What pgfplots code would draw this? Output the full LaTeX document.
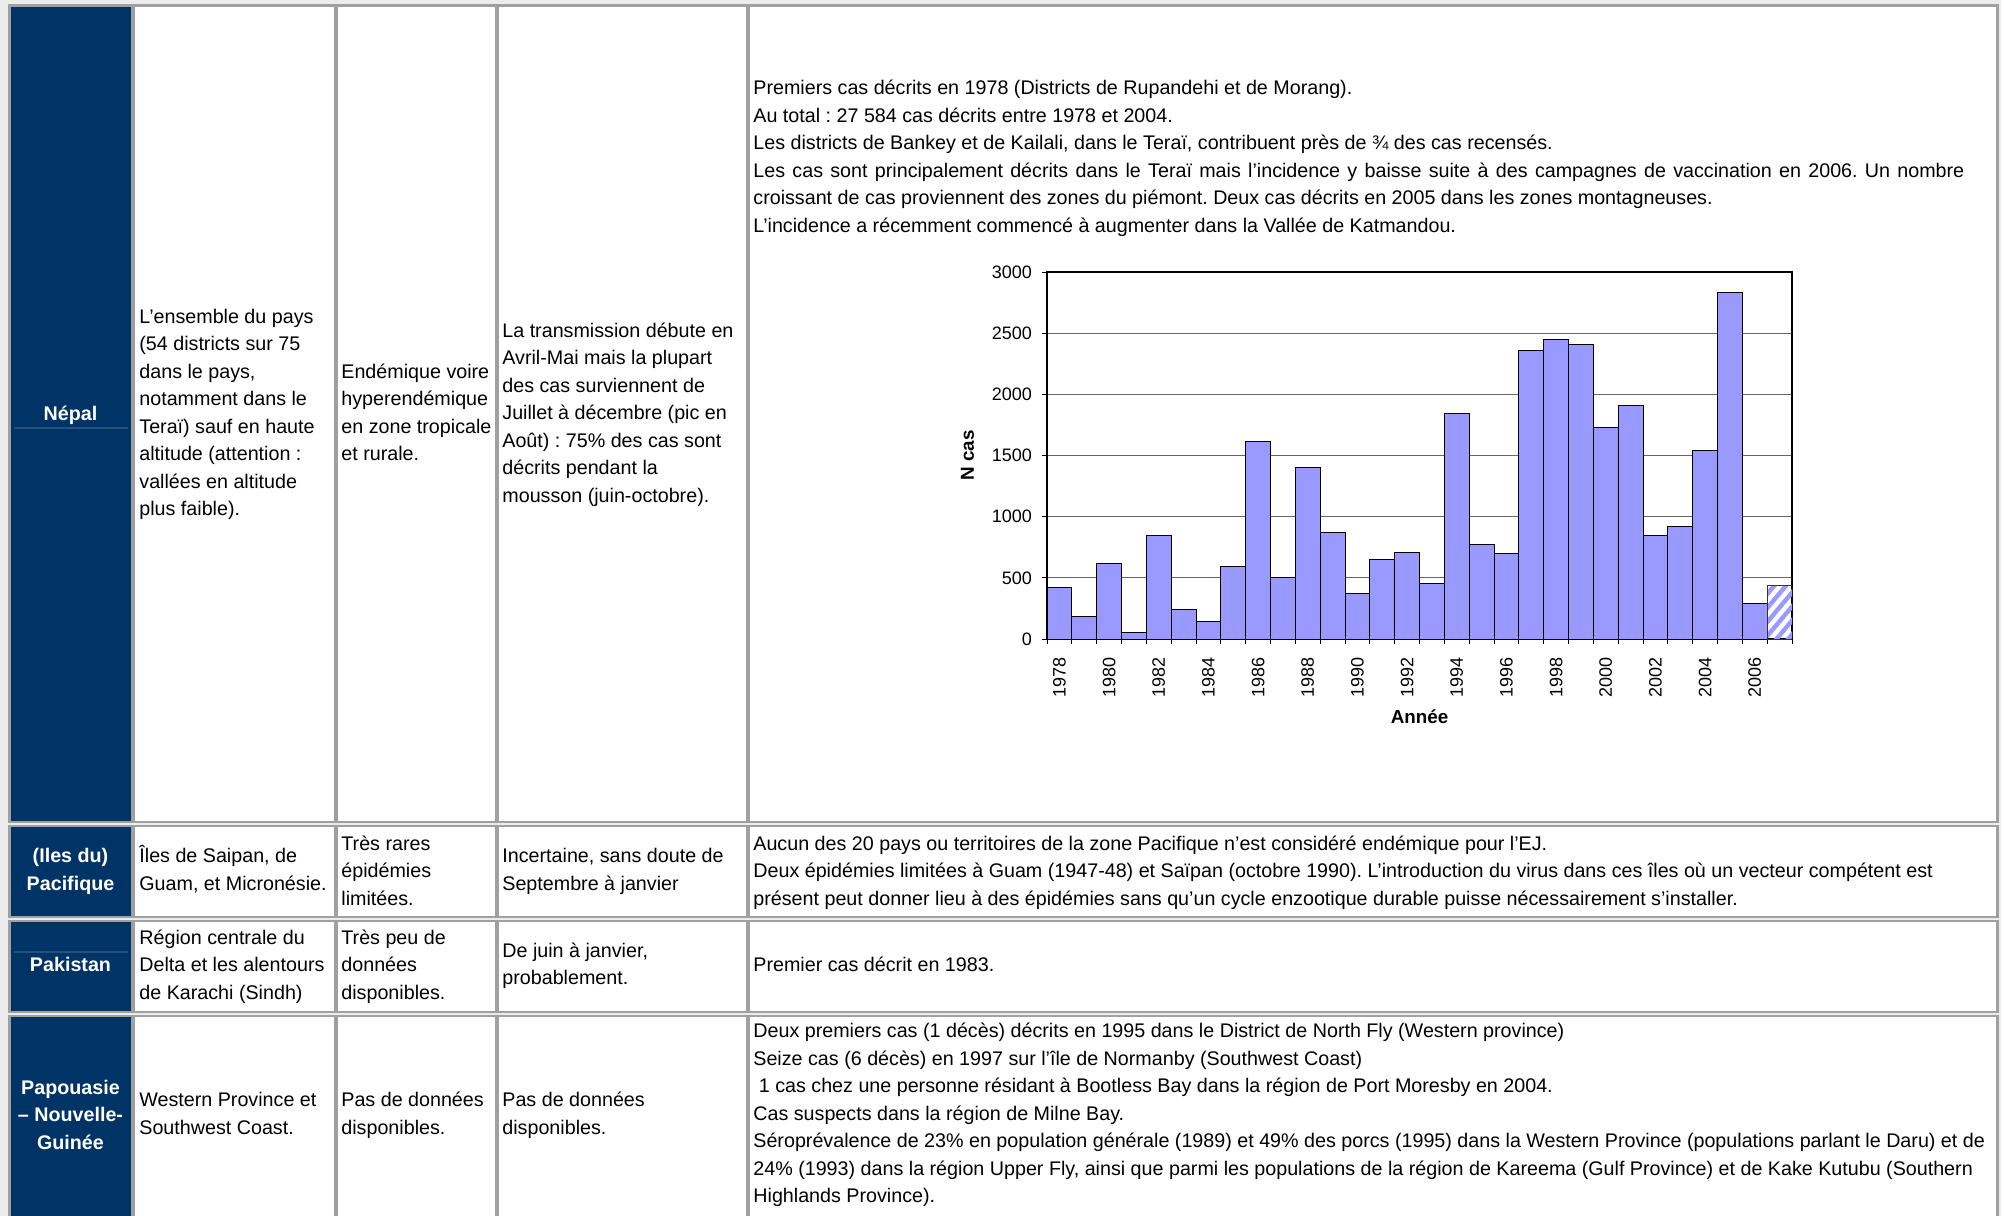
\documentclass[border=0pt]{standalone}
\usepackage{fontspec}
\setmainfont{Liberation Sans}
\usepackage{pgfplots}
\pgfplotsset{compat=1.18}
\usetikzlibrary{patterns.meta}
\definecolor{navy}{RGB}{0,51,102}
\definecolor{navyline}{RGB}{40,80,125}
\definecolor{barblue}{RGB}{153,153,255}
\definecolor{cellborder}{RGB}{160,160,160}
\definecolor{tablebg}{RGB}{236,236,236}
\frenchspacing
\newcommand\tabfont{\fontsize{9.85pt}{12pt}\selectfont}
\newcommand\block[3]{%
  \foreach \lineitem [count=\i from 0] in {#3} {
    \node[anchor=base west, inner sep=0pt, font=\tabfont] at (#1, #2+27.5*\i) {\lineitem};
  }}
\newcommand\cblock[3]{%
  \foreach \lineitem [count=\i from 0] in {#3} {
    \node[anchor=base, inner sep=0pt, font=\tabfont\bfseries, text=white] at (#1, #2+27.5*\i) {\lineitem};
  }}
\begin{document}
\begin{tikzpicture}
\path[use as bounding box, fill=white] (0pt,0pt) rectangle (1002pt,-608pt);
\begin{scope}[x=0.5pt,y=-0.5pt]
  \fill[tablebg] (0,0) rectangle (2001,1216);
  \tikzset{cell/.style={draw=cellborder, line width=1.2}}
  % row 1 Nepal
  \filldraw[cell, fill=navy] (9.5,5.5) rectangle (132,822);
  \filldraw[cell, fill=white] (134,5.5) rectangle (335,822);
  \filldraw[cell, fill=white] (337,5.5) rectangle (496,822);
  \filldraw[cell, fill=white] (498,5.5) rectangle (747,822);
  \filldraw[cell, fill=white] (749,5.5) rectangle (1997.5,822);
  % row 2 Pacifique
  \filldraw[cell, fill=navy] (9.5,826) rectangle (132,917);
  \filldraw[cell, fill=white] (134,826) rectangle (335,917);
  \filldraw[cell, fill=white] (337,826) rectangle (496,917);
  \filldraw[cell, fill=white] (498,826) rectangle (747,917);
  \filldraw[cell, fill=white] (749,826) rectangle (1997.5,917);
  % row 3 Pakistan
  \filldraw[cell, fill=navy] (9.5,921) rectangle (132,1012);
  \filldraw[cell, fill=white] (134,921) rectangle (335,1012);
  \filldraw[cell, fill=white] (337,921) rectangle (496,1012);
  \filldraw[cell, fill=white] (498,921) rectangle (747,1012);
  \filldraw[cell, fill=white] (749,921) rectangle (1997.5,1012);
  % row 4 PNG
  \filldraw[cell, fill=navy] (9.5,1016) rectangle (132,1240);
  \filldraw[cell, fill=white] (134,1016) rectangle (335,1240);
  \filldraw[cell, fill=white] (337,1016) rectangle (496,1240);
  \filldraw[cell, fill=white] (498,1016) rectangle (747,1240);
  \filldraw[cell, fill=white] (749,1016) rectangle (1997.5,1240);
  % faint lines in dark cells
  \draw[navyline, line width=1] (14,428) -- (128,428);
  \draw[navyline, line width=1] (14,952) -- (128,952);
  % first column
  \cblock{70.5}{420}{{Népal}}
  \cblock{70.5}{862.5}{{(Iles du)},{Pacifique}}
  \cblock{70.5}{971}{{Pakistan}}
  \cblock{70.5}{1094}{{Papouasie},{– Nouvelle-},{Guinée}}
  % Nepal row
  \block{139}{323}{{L’ensemble du pays},{(54 districts sur 75},{dans le pays,},{notamment dans le},{Teraï) sauf en haute},{altitude (attention :},{vallées en altitude},{plus faible).}}
  \block{341}{378}{{Endémique voire},{hyperendémique},{en zone tropicale},{et rurale.}}
  \block{502}{337}{{La transmission débute en},{Avril-Mai mais la plupart},{des cas surviennent de},{Juillet à décembre (pic en},{Août) : 75\% des cas sont},{décrits pendant la},{mousson (juin-octobre).}}
  \block{753}{94.5}{{Premiers cas décrits en 1978 (Districts de Rupandehi et de Morang).},{Au total : 27 584 cas décrits entre 1978 et 2004.},{Les districts de Bankey et de Kailali, dans le Teraï, contribuent près de ¾ des cas recensés.},{\hbox to 605.5pt{Les cas sont principalement décrits dans le Teraï mais l’incidence y baisse suite à des campagnes de vaccination en 2006. Un nombre}},{croissant de cas proviennent des zones du piémont. Deux cas décrits en 2005 dans les zones montagneuses.},{L’incidence a récemment commencé à augmenter dans la Vallée de Katmandou.}}
  % Pacifique row
  \block{139}{862.5}{{Îles de Saipan, de},{Guam, et Micronésie.}}
  \block{341}{850}{{Très rares},{épidémies},{limitées.}}
  \block{502}{862.5}{{Incertaine, sans doute de},{Septembre à janvier}}
  \block{753}{850}{{Aucun des 20 pays ou territoires de la zone Pacifique n’est considéré endémique pour l’EJ.},{Deux épidémies limitées à Guam (1947-48) et Saïpan (octobre 1990). L’introduction du virus dans ces îles où un vecteur compétent est},{présent peut donner lieu à des épidémies sans qu’un cycle enzootique durable puisse nécessairement s’installer.}}
  % Pakistan row
  \block{139}{944.3}{{Région centrale du},{Delta et les alentours},{de Karachi (Sindh)}}
  \block{341}{944.3}{{Très peu de},{données},{disponibles.}}
  \block{502}{957}{{De juin à janvier,},{probablement.}}
  \block{753}{971}{{Premier cas décrit en 1983.}}
  % PNG row
  \block{139}{1106.6}{{Western Province et},{Southwest Coast.}}
  \block{341}{1106.6}{{Pas de données},{disponibles.}}
  \block{502}{1106.6}{{Pas de données},{disponibles.}}
  \block{753}{1037.6}{{Deux premiers cas (1 décès) décrits en 1995 dans le District de North Fly (Western province)},{Seize cas (6 décès) en 1997 sur l’île de Normanby (Southwest Coast)},{\ 1 cas chez une personne résidant à Bootless Bay dans la région de Port Moresby en 2004.},{Cas suspects dans la région de Milne Bay.},{Séroprévalence de 23\% en population générale (1989) et 49\% des porcs (1995) dans la Western Province (populations parlant le Daru) et de},{24\% (1993) dans la région Upper Fly, ainsi que parmi les populations de la région de Kareema (Gulf Province) et de Kake Kutubu (Southern},{Highlands Province).}}
\end{scope}
\begin{axis}[
  at={(523.5pt,-319.5pt)}, anchor=south west,
  scale only axis, width=372.5pt, height=183.5pt,
  xmin=-0.5, xmax=29.5, ymin=0, ymax=3000,
  /pgf/number format/assume math mode=true,
  /pgf/number format/1000 sep={},
  scaled y ticks=false,
  ytick={0,500,...,3000},
  ymajorgrids, grid style={black!60, line width=0.5pt},
  xtick={-0.5,0.5,...,29.5}, xticklabels={},
  extra x ticks={0,2,...,28},
  extra x tick labels={1978,1980,1982,1984,1986,1988,1990,1992,1994,1996,1998,2000,2002,2004,2006},
  extra x tick style={major tick length=5.5pt, grid=none, tick style={draw=none}},
  tick align=outside, tick pos=left, major tick length=2.5pt,
  axis line style={black, line width=0.6pt},
  tick style={black, line width=0.5pt},
  ticklabel style={font=\fontsize{9pt}{10pt}\selectfont},
  xticklabel style={rotate=90, anchor=east},
  yticklabel style={xshift=-1.5pt},
  xlabel={Année}, ylabel={N cas},
  xlabel style={font=\fontsize{9.4pt}{11pt}\selectfont\bfseries, at={(axis description cs:0.5,-0.2125)}, anchor=center},
  ylabel style={font=\fontsize{9.4pt}{11pt}\selectfont\bfseries, at={(axis description cs:-0.1067,0.5)}, anchor=center, rotate=0},
]
\addplot[ybar, bar width=1, bar shift=0pt, fill=barblue, draw=black, line width=0.5pt] coordinates {
  (0,423) (1,183) (2,620) (3,57) (4,843) (5,243) (6,147) (7,590) (8,1616) (9,505)
  (10,1403) (11,871) (12,371) (13,650) (14,710) (15,450) (16,1840) (17,775) (18,699) (19,2359)
  (20,2451) (21,2410) (22,1733) (23,1911) (24,843) (25,923) (26,1542) (27,2831) (28,289)
};
\addplot[ybar, bar width=1, bar shift=0pt, draw=black!80, line width=0.5pt, pattern={Lines[angle=50,distance=4.5pt,line width=2.2pt]}, pattern color=barblue] coordinates {(29,434)};
\end{axis}
\end{tikzpicture}
\end{document}
